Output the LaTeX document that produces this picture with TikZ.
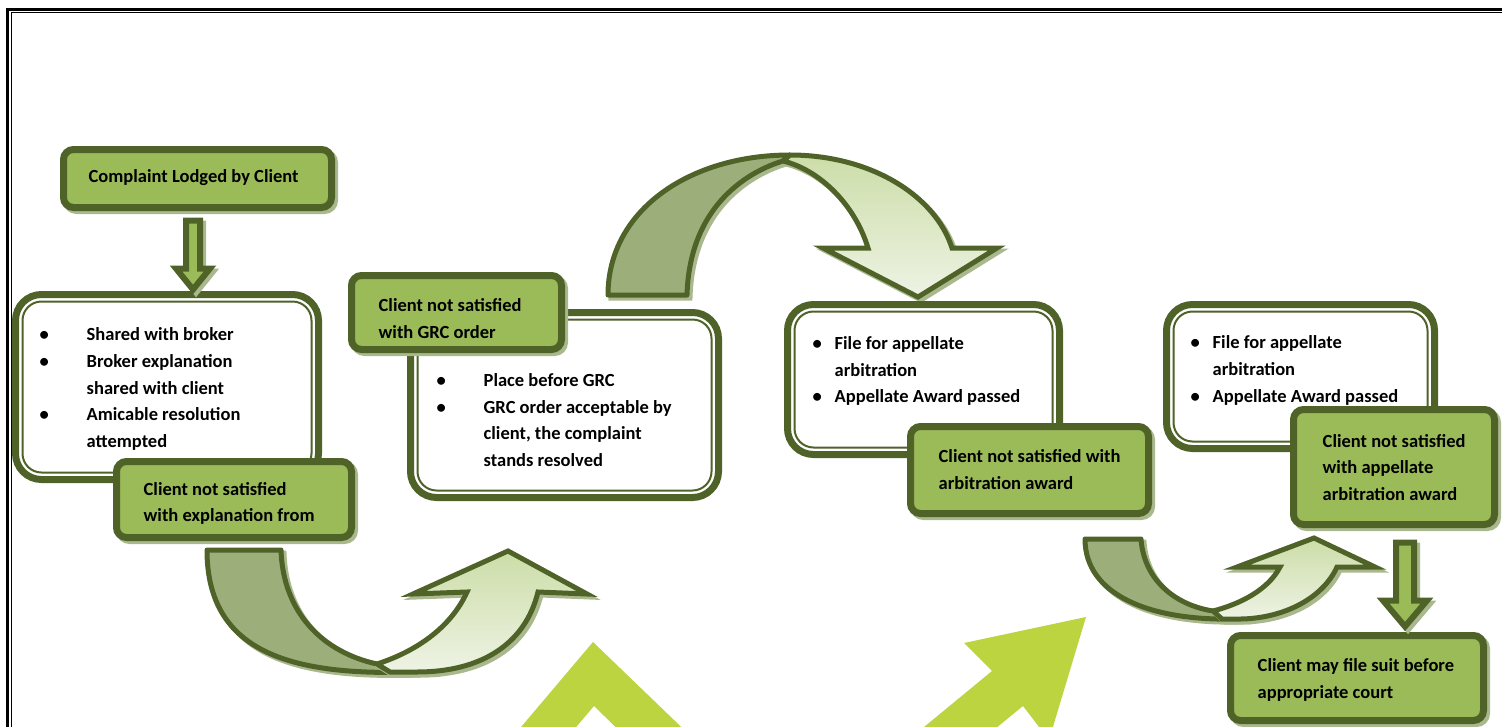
\documentclass[tikz,border=0pt]{standalone}
\usepackage{fontspec}
\setmainfont{Carlito}
\usetikzlibrary{positioning,shadows}

\definecolor{dgreen}{RGB}{79,98,40}
\definecolor{mgreen}{RGB}{155,187,89}
\definecolor{shadowc}{RGB}{170,184,142}
\definecolor{backc}{RGB}{156,174,122}
\definecolor{frontg}{RGB}{204,221,168}
\definecolor{frontw}{RGB}{238,243,228}
\definecolor{lime}{RGB}{187,212,64}

% bullets: wide and narrow indent
\newcommand{\itm}{\makebox[47pt][l]{\textbullet}}
\newcommand{\itmi}{\hspace*{47pt}}
\newcommand{\its}{\makebox[22pt][l]{\textbullet}}
\newcommand{\itsi}{\hspace*{22pt}}

\tikzset{
  gshadow/.style={drop shadow={shadow xshift=3pt, shadow yshift=-3pt, fill=shadowc, draw=shadowc, line width=#1, opacity=1}},
  gbox/.style={draw=dgreen, line width=7pt, fill=mgreen, rounded corners=10pt, gshadow=7pt},
  wbox/.style={draw=dgreen, line width=7pt, fill=white, rounded corners=26pt,
    path picture={\draw[dgreen, line width=2pt, rounded corners=19pt]
      ([shift={(7pt,-7pt)}]path picture bounding box.north west) rectangle
      ([shift={(-7pt,7pt)}]path picture bounding box.south east);}},
  txt/.style={inner sep=0pt, align=left, font=\bfseries\fontsize{18.5}{26.7}\selectfont},
  blockarr/.style={draw=dgreen, line width=6pt, fill=mgreen, line join=miter, gshadow=6pt},
  backpart/.style={draw=dgreen, line width=5pt, fill=backc, line join=round, gshadow=5pt},
  frontpart/.style={draw=dgreen, line width=5pt, top color=frontg, bottom color=frontw, line join=miter, gshadow=5pt}
}

\begin{document}
\begin{tikzpicture}[x=1pt, y=-1pt]
  \useasboundingbox (0,0) rectangle (1502,726);

  % frame
  \draw[line width=3.5pt] (7.5,9.5) rectangle (1540,760);
  \draw[line width=1.2pt] (11.5,12.5) rectangle (1536,756);

  % lime arrows at the bottom
  \fill[lime] (505,746) -- (593,642) -- (701,746) -- (635,746) -- (594,706) -- (560,746) -- cycle;
  \fill[lime] (1086,617) -- (964,643) -- (992,671) -- (884,760) -- (957,760) -- (1023,706) -- (1049,740) -- cycle;

  % curved arrow, first step
  \draw[backpart] (207,550) -- (281,550) .. controls (283,612) and (322,652) .. (377,664)
    -- (417,672) .. controls (295,676) and (207,655) .. (207,550) -- cycle;
  \draw[frontpart] (377,664) .. controls (420,650) and (452,625) .. (467,592) -- (413,594) -- (508,551)
    -- (587,594) -- (538,592) .. controls (525,645) and (480,672) .. (417,672) -- (390,672) -- cycle;

  % curved arrow over the top
  \draw[backpart] (608,295) .. controls (608,210) and (690,155) .. (790,155)
    -- (783,161) .. controls (770,165) and (690,190) .. (687,295) -- cycle;
  \draw[frontpart] (783,161) .. controls (820,170) and (855,205) .. (868,248) -- (823,248) -- (918,297)
    -- (997,248) -- (952,248) .. controls (935,195) and (870,155) .. (790,155) -- cycle;

  % small curved arrow
  \draw[backpart] (1085,539) -- (1141,539) .. controls (1144,580) and (1175,605) .. (1213,611)
    -- (1235,619) .. controls (1150,621) and (1085,595) .. (1085,539) -- cycle;
  \draw[frontpart] (1213,611) .. controls (1240,604) and (1268,590) .. (1280,567) -- (1237,567) -- (1314,538)
    -- (1375,567) -- (1337,567) .. controls (1322,600) and (1280,620) .. (1235,619) -- (1222,619) -- cycle;

  % boxes
  \node[wbox, minimum width=303pt, minimum height=185pt] (sh) at (167,387) {};
  \node[txt, right=27.5pt of sh.west, yshift=-2pt] {\itm Shared with broker\\ \itm Broker explanation\\
    \itmi shared with client\\ \itm Amicable resolution\\ \itmi attempted};

  \node[gbox, minimum width=235pt, minimum height=76pt] (ne) at (234,499.5) {};
  \node[txt, right=30.5pt of ne.west, yshift=-4pt] {Client not satisfied\\ with explanation from};

  \node[wbox, minimum width=308pt, minimum height=185pt] (grc) at (564.5,405) {};
  \node[txt, right=29.5pt of grc.west, yshift=-15pt] {\itm Place before GRC\\ \itm GRC order acceptable by\\
    \itmi client, the complaint\\ \itmi stands resolved};

  \node[gbox, minimum width=210pt, minimum height=74pt] (ng) at (456.5,312.5) {};
  \node[txt, right=30.5pt of ng.west, yshift=-6pt] {Client not satisfied\\ with GRC order};

  \node[wbox, minimum width=272pt, minimum height=150pt] (arb) at (923.5,379.5) {};
  \node[txt, right=28.5pt of arb.west, yshift=8.5pt] {\its File for appellate\\ \itsi arbitration\\
    \its Appellate Award passed};

  \node[gbox, minimum width=238pt, minimum height=87pt] (na) at (1029.5,470) {};
  \node[txt, right=31.5pt of na.west, yshift=0.5pt] {Client not satisfied with\\ arbitration award};

  \node[wbox, minimum width=268pt, minimum height=144pt] (app) at (1300.5,376.5) {};
  \node[txt, right=27.5pt of app.west, yshift=6pt] {\its File for appellate\\ \itsi arbitration\\
    \its Appellate Award passed};

  \node[gbox, minimum width=201pt, minimum height=115pt] (nap) at (1394,467) {};
  \node[txt, right=32.5pt of nap.west, yshift=-0.5pt] {Client not satisfied\\ with appellate\\ arbitration award};

  \node[gbox, minimum width=268pt, minimum height=58pt] (cl) at (197.5,178.5) {};
  \node[txt, right=28.5pt of cl.west, yshift=0.5pt] {Complaint Lodged by Client};

  \node[gbox, minimum width=253pt, minimum height=85pt] (suit) at (1357,678) {};
  \node[txt, right=30.5pt of suit.west, yshift=-2pt] {Client may file suit before\\ appropriate court};

  % straight arrows
  \draw[blockarr] ([shift={(-11.5,9.5)}]cl.south) -- ++(0,48) -- ++(-10,0) -- ++(17,21)
    -- ++(17,-21) -- ++(-10,0) -- ++(0,-48) -- cycle;
  \draw[blockarr] ([shift={(2,14.5)}]nap.south) -- ++(0,58) -- ++(-13,0) -- ++(22,26)
    -- ++(22,-26) -- ++(-13,0) -- ++(0,-58) -- cycle;

\end{tikzpicture}
\end{document}
